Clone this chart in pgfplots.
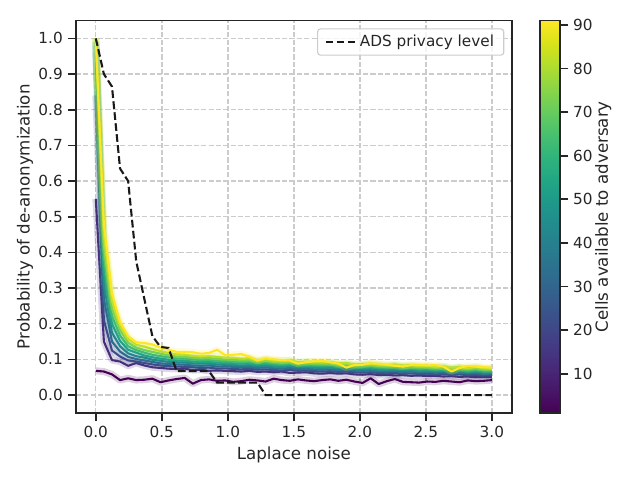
\documentclass[border=0pt]{standalone}
\usepackage{fontspec}
\setmainfont{DejaVu Sans}
\usepackage{pgfplots}
\pgfplotsset{compat=1.18}
\usepackage{pgfplotstable}

\definecolor{v1}{HTML}{440154}
\definecolor{v2}{HTML}{472C7A}
\definecolor{v3}{HTML}{3E4989}
\definecolor{v4}{HTML}{31688E}
\definecolor{v5}{HTML}{26828E}
\definecolor{v6}{HTML}{1F9E89}
\definecolor{v7}{HTML}{35B779}
\definecolor{v8}{HTML}{6ECE58}
\definecolor{v9}{HTML}{B5DE2B}
\definecolor{v10}{HTML}{FDE725}
\definecolor{tgray}{HTML}{262626}
\definecolor{gridc}{HTML}{CCCCCC}

\pgfplotstableread{
x a b c d e f g h i j ads
0.0000 0.068 0.550 0.840 0.960 0.980 0.990 0.990 1.000 1.000 1.000 1.000
0.0612 0.066 0.150 0.210 0.270 0.310 0.350 0.390 0.420 0.450 0.480 0.900
0.1224 0.058 0.098 0.125 0.150 0.175 0.200 0.222 0.243 0.265 0.285 0.865
0.1837 0.042 0.094 0.108 0.122 0.137 0.152 0.167 0.182 0.195 0.205 0.635
0.2449 0.047 0.082 0.097 0.107 0.117 0.127 0.137 0.147 0.157 0.165 0.600
0.3061 0.042 0.090 0.094 0.101 0.109 0.119 0.126 0.133 0.141 0.148 0.375
0.3673 0.043 0.083 0.090 0.097 0.105 0.111 0.119 0.126 0.136 0.146 0.270
0.4286 0.046 0.078 0.086 0.093 0.099 0.106 0.113 0.121 0.129 0.142 0.165
0.4898 0.036 0.076 0.083 0.089 0.096 0.102 0.109 0.116 0.123 0.133 0.135
0.5510 0.041 0.074 0.081 0.087 0.093 0.099 0.106 0.111 0.118 0.127 0.132
0.6122 0.045 0.073 0.080 0.086 0.092 0.097 0.103 0.108 0.114 0.121 0.067
0.6735 0.048 0.074 0.079 0.085 0.091 0.096 0.102 0.107 0.113 0.121 0.067
0.7347 0.032 0.070 0.078 0.083 0.089 0.094 0.100 0.105 0.110 0.120 0.067
0.7959 0.042 0.071 0.076 0.082 0.088 0.093 0.098 0.103 0.108 0.116 0.067
0.8571 0.044 0.068 0.077 0.083 0.088 0.093 0.098 0.104 0.109 0.118 0.067
0.9184 0.040 0.069 0.074 0.080 0.086 0.091 0.096 0.101 0.107 0.127 0.035
0.9796 0.041 0.068 0.075 0.081 0.086 0.090 0.095 0.100 0.105 0.112 0.035
1.0408 0.037 0.067 0.073 0.079 0.084 0.089 0.094 0.099 0.104 0.113 0.035
1.1020 0.039 0.066 0.072 0.078 0.083 0.088 0.093 0.097 0.102 0.115 0.035
1.1633 0.043 0.068 0.074 0.079 0.084 0.088 0.093 0.098 0.103 0.108 0.035
1.2245 0.041 0.065 0.071 0.076 0.081 0.086 0.090 0.094 0.096 0.097 0.035
1.2857 0.038 0.066 0.072 0.078 0.083 0.087 0.092 0.096 0.101 0.103 0.000
1.3469 0.046 0.064 0.070 0.075 0.080 0.085 0.089 0.093 0.097 0.100 0.000
1.4082 0.042 0.066 0.069 0.074 0.079 0.083 0.087 0.091 0.096 0.098 0.000
1.4694 0.040 0.062 0.071 0.076 0.081 0.085 0.089 0.093 0.098 0.097 0.000
1.5306 0.044 0.063 0.068 0.073 0.078 0.082 0.086 0.090 0.092 0.088 0.000
1.5918 0.041 0.064 0.069 0.074 0.078 0.082 0.086 0.090 0.094 0.092 0.000
1.6531 0.039 0.061 0.067 0.072 0.077 0.081 0.085 0.089 0.093 0.095 0.000
1.7143 0.042 0.060 0.066 0.071 0.076 0.080 0.084 0.088 0.092 0.096 0.000
1.7755 0.044 0.062 0.067 0.072 0.077 0.081 0.085 0.089 0.093 0.092 0.000
1.8367 0.040 0.060 0.065 0.070 0.074 0.078 0.082 0.085 0.089 0.088 0.000
1.8980 0.043 0.061 0.066 0.071 0.075 0.079 0.083 0.087 0.090 0.077 0.000
1.9592 0.038 0.058 0.064 0.069 0.073 0.077 0.080 0.083 0.086 0.084 0.000
2.0204 0.034 0.057 0.063 0.068 0.072 0.076 0.080 0.084 0.087 0.085 0.000
2.0816 0.047 0.059 0.064 0.069 0.073 0.077 0.081 0.085 0.088 0.089 0.000
2.1429 0.031 0.056 0.062 0.067 0.071 0.075 0.078 0.082 0.085 0.088 0.000
2.2041 0.039 0.057 0.061 0.066 0.070 0.074 0.078 0.081 0.084 0.085 0.000
2.2653 0.045 0.055 0.062 0.067 0.071 0.075 0.079 0.083 0.086 0.082 0.000
2.3265 0.037 0.056 0.060 0.065 0.069 0.073 0.076 0.080 0.083 0.080 0.000
2.3878 0.036 0.054 0.061 0.066 0.070 0.074 0.077 0.081 0.084 0.084 0.000
2.4490 0.035 0.055 0.059 0.064 0.068 0.072 0.075 0.078 0.081 0.085 0.000
2.5102 0.038 0.053 0.060 0.065 0.069 0.072 0.075 0.079 0.082 0.083 0.000
2.5714 0.037 0.054 0.058 0.063 0.067 0.070 0.073 0.076 0.079 0.084 0.000
2.6327 0.040 0.052 0.059 0.064 0.068 0.071 0.074 0.078 0.081 0.080 0.000
2.6939 0.038 0.053 0.057 0.062 0.065 0.068 0.071 0.074 0.077 0.066 0.000
2.7551 0.036 0.051 0.058 0.063 0.067 0.070 0.073 0.077 0.079 0.076 0.000
2.8163 0.041 0.052 0.056 0.061 0.064 0.067 0.070 0.072 0.075 0.082 0.000
2.8776 0.039 0.050 0.057 0.062 0.066 0.069 0.072 0.076 0.079 0.080 0.000
2.9388 0.040 0.051 0.055 0.060 0.063 0.066 0.069 0.072 0.075 0.078 0.000
3.0000 0.042 0.050 0.056 0.060 0.063 0.066 0.069 0.072 0.074 0.077 0.000
}\data

\pgfplotsset{
  hueline/.style={line width=1.5pt, line join=round, forget plot,
    preaction={draw, line width=5pt, opacity=0.18}},
}

\begin{document}
\begin{tikzpicture}
\begin{axis}[
  at={(0,0)}, anchor=south west,
  width=313.7pt, height=282.5pt, scale only axis,
  xmin=-0.15, xmax=3.15, ymin=-0.05, ymax=1.05,
  xtick={0,0.5,1,1.5,2,2.5,3},
  ytick={0,0.1,0.2,0.3,0.4,0.5,0.6,0.7,0.8,0.9,1.0},
  scaled ticks=false,
  xticklabel style={/pgf/number format/fixed, /pgf/number format/fixed zerofill, /pgf/number format/precision=1},
  yticklabel style={/pgf/number format/fixed, /pgf/number format/fixed zerofill, /pgf/number format/precision=1},
  /pgf/number format/assume math mode=true,
  tick label style={font=\fontsize{11}{13}\selectfont, text=tgray},
  label style={font=\fontsize{12}{14}\selectfont, text=tgray},
  xlabel={Laplace noise},
  ylabel={Probability of de-anonymization},
  ylabel shift=-3pt,
  xtick pos=bottom, ytick pos=left,
  tick align=outside,
  major tick length=6pt,
  tick style={line width=1.25pt, color=tgray},
  axis line style={line width=1.25pt, color=tgray},
  grid=major,
  grid style={line width=1pt, color=gridc, dash pattern=on 3.7pt off 1.6pt},
  legend style={at={(0.983,0.980)}, anchor=north east, draw=gridc, line width=0.8pt,
    rounded corners=2pt, fill=white, fill opacity=0.8, text opacity=1,
    font=\fontsize{11}{13}\selectfont, text=tgray, inner xsep=5pt, inner ysep=2.5pt},
  legend cell align=left,
  legend image code/.code={\draw[#1] (0pt,0pt) -- (22pt,0pt);},
  colormap/viridis,
  point meta min=1, point meta max=91,
  colorbar,
  colorbar style={
    at={(parent axis.north east)}, anchor=north west, xshift=11.8pt,
    width=14.4pt,
    ytick={10,20,30,40,50,60,70,80,90},
    ytick pos=right, yticklabel pos=right,
    tick align=outside,
    major tick length=6pt,
    tick style={line width=1.25pt, color=tgray},
    axis line style={line width=1pt, color=tgray},
    /pgf/number format/assume math mode=true,
    yticklabel style={font=\fontsize{11}{13}\selectfont, text=tgray},
    ylabel={Cells available to adversary},
    ylabel shift=-5pt,
    ylabel style={font=\fontsize{12}{14}\selectfont, text=tgray},
  },
]
\addplot[v1, hueline] table[x=x, y=a] {\data};
\addplot[v2, hueline] table[x=x, y=b] {\data};
\addplot[v3, hueline] table[x=x, y=c] {\data};
\addplot[v4, hueline] table[x=x, y=d] {\data};
\addplot[v5, hueline] table[x=x, y=e] {\data};
\addplot[v6, hueline] table[x=x, y=f] {\data};
\addplot[v7, hueline] table[x=x, y=g] {\data};
\addplot[v8, hueline] table[x=x, y=h] {\data};
\addplot[v9, hueline] table[x=x, y=i] {\data};
\addplot[v10, hueline] table[x=x, y=j] {\data};
\addplot[black!90, line width=1.5pt, dash pattern=on 5.55pt off 2.4pt] table[x=x, y=ads] {\data};
\addlegendentry{ADS privacy level}
\end{axis}
\pgfresetboundingbox
\path[use as bounding box] (-54.72pt,-48.31pt) rectangle (406.08pt,297.29pt);
\end{tikzpicture}
\end{document}
